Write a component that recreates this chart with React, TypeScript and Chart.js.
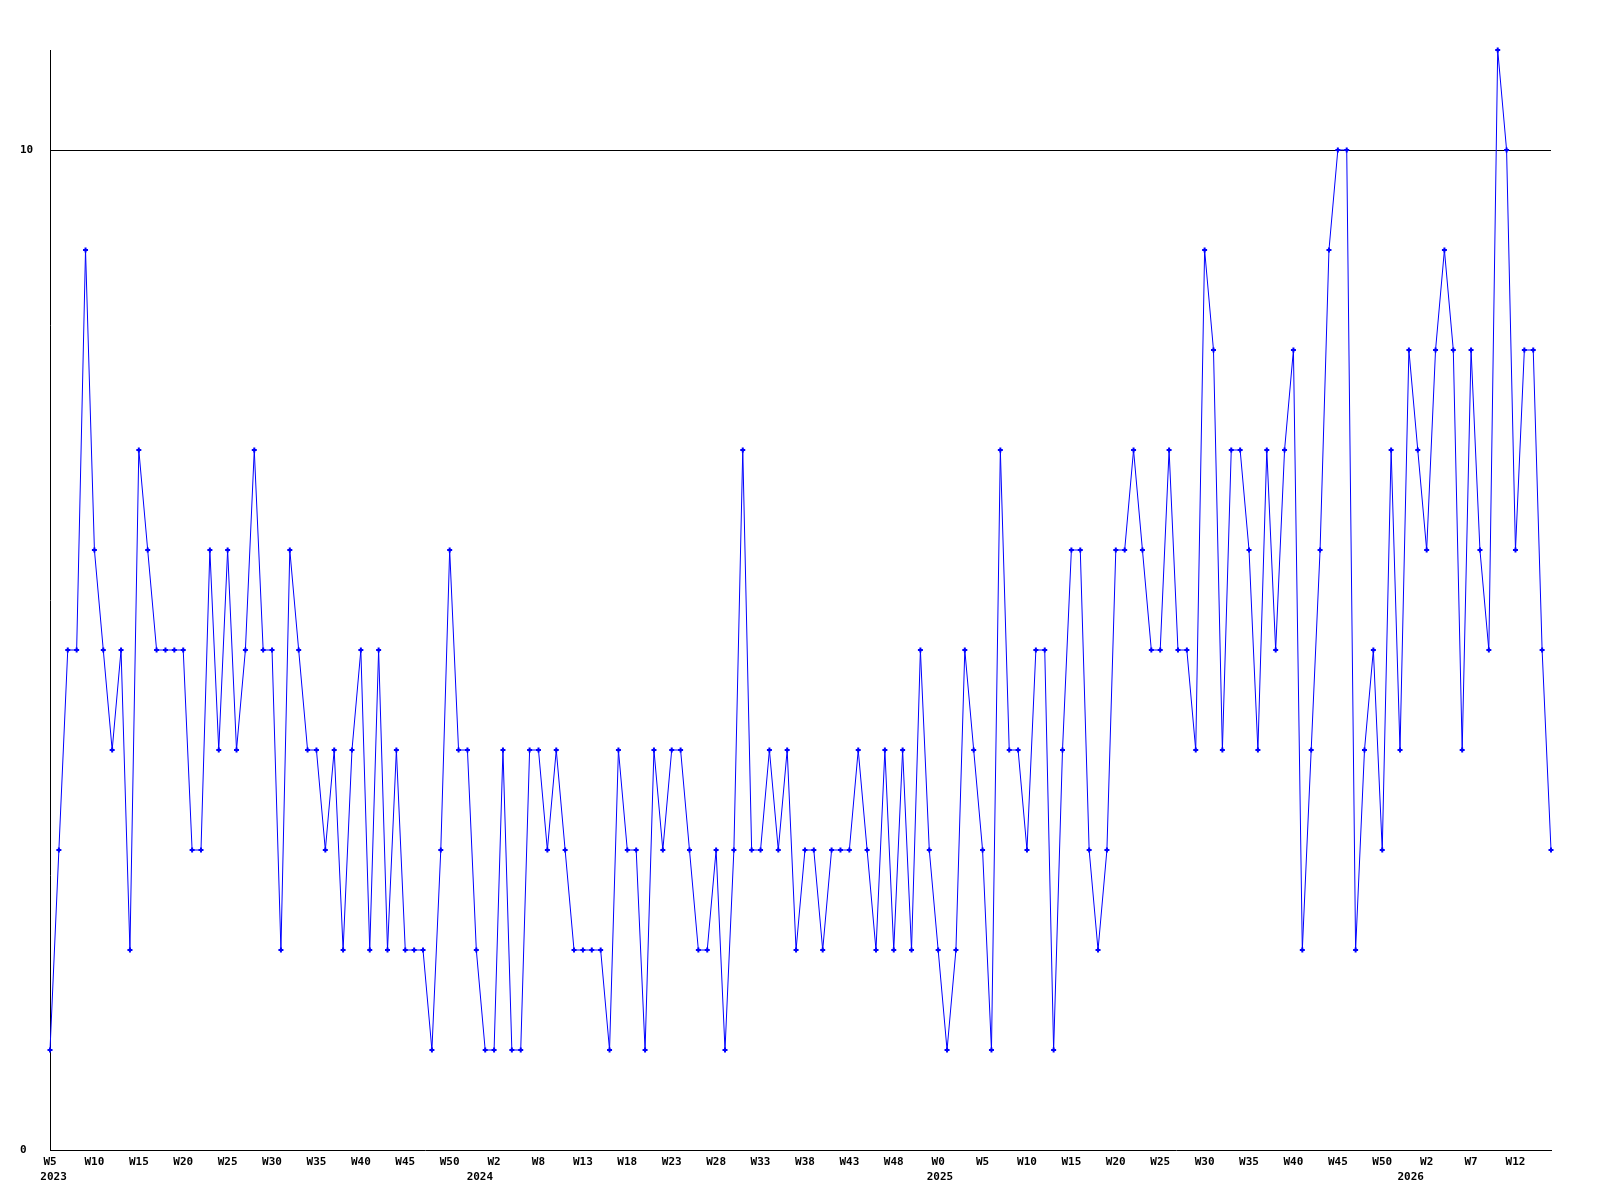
import { useEffect, useRef } from "react";
import { Chart, registerables } from "chart.js";

Chart.register(...registerables);

// Weekly values, 2023 W5 .. 2026 W16 (one value per week)
const weeklyCounts: number[] = [
  1, 3, 5, 5, 9, 6, 5, 4, 5, 2,
  7, 6, 5, 5, 5, 5, 3, 3, 6, 4,
  6, 4, 5, 7, 5, 5, 2, 6, 5, 4,
  4, 3, 4, 2, 4, 5, 2, 5, 2, 4,
  2, 2, 2, 1, 3, 6, 4, 4, 2, 1,
  1, 4, 1, 1, 4, 4, 3, 4, 3, 2,
  2, 2, 2, 1, 4, 3, 3, 1, 4, 3,
  4, 4, 3, 2, 2, 3, 1, 3, 7, 3,
  3, 4, 3, 4, 2, 3, 3, 2, 3, 3,
  3, 4, 3, 2, 4, 2, 4, 2, 5, 3,
  2, 1, 2, 5, 4, 3, 1, 7, 4, 4,
  3, 5, 5, 1, 4, 6, 6, 3, 2, 3,
  6, 6, 7, 6, 5, 5, 7, 5, 5, 4,
  9, 8, 4, 7, 7, 6, 4, 7, 5, 7,
  8, 2, 4, 6, 9, 10, 10, 2, 4, 5,
  3, 7, 4, 8, 7, 6, 8, 9, 8, 4,
  8, 6, 5, 11, 10, 6, 8, 8, 5, 3,
];

// Week tick labels shown on every 5th point
const weekTickLabels: string[] = [
  "W5", "W10", "W15", "W20", "W25", "W30", "W35", "W40", "W45", "W50",
  "W2", "W8", "W13", "W18", "W23", "W28", "W33", "W38", "W43", "W48",
  "W0", "W5", "W10", "W15", "W20", "W25", "W30", "W35", "W40", "W45",
  "W50", "W2", "W7", "W12",
];
const tickEvery = 5;

// Year labels and their position along the week axis (point index)
const yearLabels: string[] = ["2023", "2024", "2025", "2026"];
const yearPositions: number[] = [0.4, 48.4, 100.2, 153.2];

const yTickValues: number[] = [0, 10];

const FONT_FAMILY = '"DejaVu Sans Mono", "Liberation Mono", monospace';

const yearLabelPlugin = {
  id: "yearLabels",
  afterDraw(chart: any) {
    const ctx = chart.ctx;
    const xs = chart.scales.x;
    ctx.save();
    ctx.font = `bold 11px ${FONT_FAMILY}`;
    ctx.fillStyle = "#000000";
    ctx.textAlign = "center";
    ctx.textBaseline = "middle";
    const y = chart.chartArea.bottom + 27;
    yearLabels.forEach((t, i) => {
      ctx.fillText(t, xs.getPixelForValue(yearPositions[i]), y);
    });
    ctx.restore();
  },
};

export default function App() {
  const canvasRef = useRef<HTMLCanvasElement | null>(null);

  useEffect(() => {
    if (!canvasRef.current) return;
    const labels = weeklyCounts.map((_, i) => String(i));
    const chart = new Chart(canvasRef.current, {
      type: "line",
      data: {
        labels,
        datasets: [
          {
            data: weeklyCounts,
            borderColor: "#0000ff",
            borderWidth: 1,
            pointStyle: "cross",
            pointRadius: 2.5,
            pointBackgroundColor: "#0000ff",
            pointBorderColor: "#0000ff",
            pointBorderWidth: 2,
            tension: 0,
            clip: false as any,
          },
        ],
      },
      options: {
        responsive: false,
        animation: false,
        devicePixelRatio: 1,
        layout: { padding: { left: 20, right: 49, top: 50, bottom: 0 } },
        plugins: {
          legend: { display: false },
          tooltip: { enabled: false },
        },
        scales: {
          x: {
            type: "category",
            offset: false,
            grid: { display: false, drawTicks: false },
            border: { display: true, color: "#000000", width: 1 },
            ticks: {
              autoSkip: false,
              maxRotation: 0,
              minRotation: 0,
              padding: 6,
              color: "#000000",
              font: { family: FONT_FAMILY, size: 11, weight: "bold" },
              callback: (_v: any, idx: number) =>
                idx % tickEvery === 0 && weekTickLabels[idx / tickEvery] !== undefined
                  ? weekTickLabels[idx / tickEvery]
                  : "",
            },
            afterFit: (s: any) => {
              s.height = 50;
            },
          },
          y: {
            min: 0,
            max: 11,
            afterBuildTicks: (s: any) => {
              s.ticks = yTickValues.map((v) => ({ value: v }));
            },
            grid: {
              drawTicks: false,
              lineWidth: 1,
              color: (c: any) =>
                c.tick && c.tick.value === 10 ? "#000000" : "rgba(0,0,0,0)",
            },
            border: { display: true, color: "#000000", width: 1 },
            ticks: {
              crossAlign: "far",
              padding: 0,
              color: "#000000",
              font: { family: FONT_FAMILY, size: 11, weight: "bold" },
            },
            afterFit: (s: any) => {
              s.width = 30;
            },
          },
        },
      },
      plugins: [yearLabelPlugin],
    });
    return () => chart.destroy();
  }, []);

  return (
    <div
      style={{
        position: "absolute",
        left: 0,
        top: 0,
        width: 1600,
        height: 1200,
        background: "#ffffff",
      }}
    >
      <canvas ref={canvasRef} width={1600} height={1200} />
    </div>
  );
}
